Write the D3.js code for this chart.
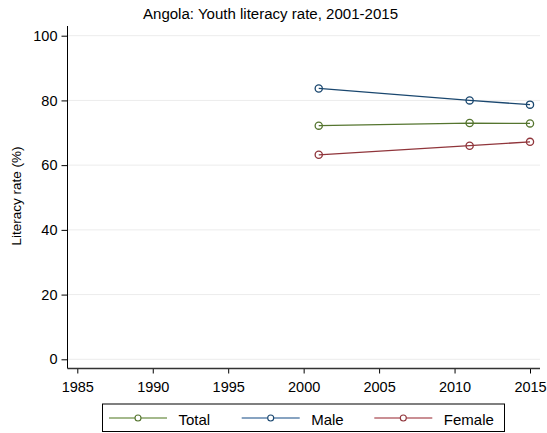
<!DOCTYPE html>
<html><head><meta charset="utf-8">
<script src="https://cdn.jsdelivr.net/npm/d3@7"></script>
<style>body{margin:0;background:#fff}svg{display:block}text{font-family:"Liberation Sans",Arial,sans-serif;fill:#000}</style>
</head><body>
<script>
const years = [2001, 2011, 2015];
const totalValues = [72.2, 73.0, 72.9];
const maleValues = [83.7, 80.0, 78.7];
const femaleValues = [63.2, 66.0, 67.2];
const seriesNames = ["Total", "Male", "Female"];
const seriesColors = ["#55752f", "#1a476f", "#90353b"];
const xTicks = [1985, 1990, 1995, 2000, 2005, 2010, 2015];
const yTicks = [0, 20, 40, 60, 80, 100];
const titleText = "Angola: Youth literacy rate, 2001-2015";
const yLabel = "Literacy rate (%)";

const W = 547, H = 433;
const FF = '"Liberation Sans",Arial,sans-serif';
const svg = d3.select("body").append("svg").attr("width", W).attr("height", H);
const plotL = 67.5, plotR = 540, plotT = 26, plotB = 368.5;
const x = d3.scaleLinear().domain([1985, 2015]).range([77.3, 530]);
const y = d3.scaleLinear().domain([0, 100]).range([359.3, 35.7]);

// grid
svg.append("g").selectAll("line").data(yTicks).join("line")
  .attr("x1", plotL).attr("x2", plotR)
  .attr("y1", d => y(d)).attr("y2", d => y(d))
  .attr("stroke", "#ececec").attr("stroke-width", 1);

// y axis
const yAxis = svg.append("g").attr("transform", `translate(${plotL},0)`)
  .call(d3.axisLeft(y).tickValues(yTicks).tickSize(6).tickPadding(4));
yAxis.select(".domain").remove();
svg.append("line").attr("x1", plotL).attr("x2", plotL).attr("y1", plotT).attr("y2", plotB).attr("stroke", "#000");
yAxis.selectAll("text").style("font-size", "14.5px").style("font-family", FF);

// x axis
const xAxis = svg.append("g").attr("transform", `translate(0,${plotB})`)
  .call(d3.axisBottom(x).tickValues(xTicks).tickFormat(d3.format("d")).tickSize(5).tickPadding(8));
xAxis.select(".domain").remove();
svg.append("line").attr("x1", plotL).attr("x2", plotR).attr("y1", plotB).attr("y2", plotB).attr("stroke", "#333").attr("stroke-width", 1.5);
xAxis.selectAll("text").style("font-size", "14.5px").style("font-family", FF);

// title
svg.append("text").attr("x", 270.5).attr("y", 19).attr("text-anchor", "middle")
  .attr("textLength", 255).attr("lengthAdjust", "spacingAndGlyphs")
  .style("font-size", "14px").text(titleText);
// y label
svg.append("text").attr("transform", "translate(21,196) rotate(-90)").attr("text-anchor", "middle")
  .style("font-size", "13.5px").text(yLabel);

// series
const series = [totalValues, maleValues, femaleValues];
const line = d3.line().x((d, i) => x(years[i])).y(d => y(d));
series.forEach((vals, k) => {
  svg.append("path").datum(vals).attr("d", line).attr("fill", "none")
    .attr("stroke", seriesColors[k]).attr("stroke-width", 1.3);
  svg.append("g").selectAll("circle").data(vals).join("circle")
    .attr("cx", (d, i) => x(years[i])).attr("cy", d => y(d)).attr("r", 3.6)
    .attr("fill", "none").attr("stroke", seriesColors[k]).attr("stroke-width", 1.3);
});

// legend
const lg = svg.append("g");
lg.append("rect").attr("x", 102.5).attr("y", 404).attr("width", 402).attr("height", 27.5)
  .attr("fill", "#fff").attr("stroke", "#000").attr("stroke-width", 1);
const legX = [109, 241.7, 374.3];
const legColors = ["#86a266", "#5f85ad", "#b86a70"];
seriesNames.forEach((n, k) => {
  const x0 = legX[k], cy = 418;
  lg.append("line").attr("x1", x0).attr("x2", x0 + 58).attr("y1", cy).attr("y2", cy)
    .attr("stroke", legColors[k]).attr("stroke-width", 1.3);
  lg.append("circle").attr("cx", x0 + 29).attr("cy", cy).attr("r", 3)
    .attr("fill", "#fff").attr("stroke", seriesColors[k]).attr("stroke-width", 1.1);
  lg.append("text").attr("x", x0 + 69.5).attr("y", 424.5).style("font-size", "15px").text(n);
});
</script>
</body></html>
